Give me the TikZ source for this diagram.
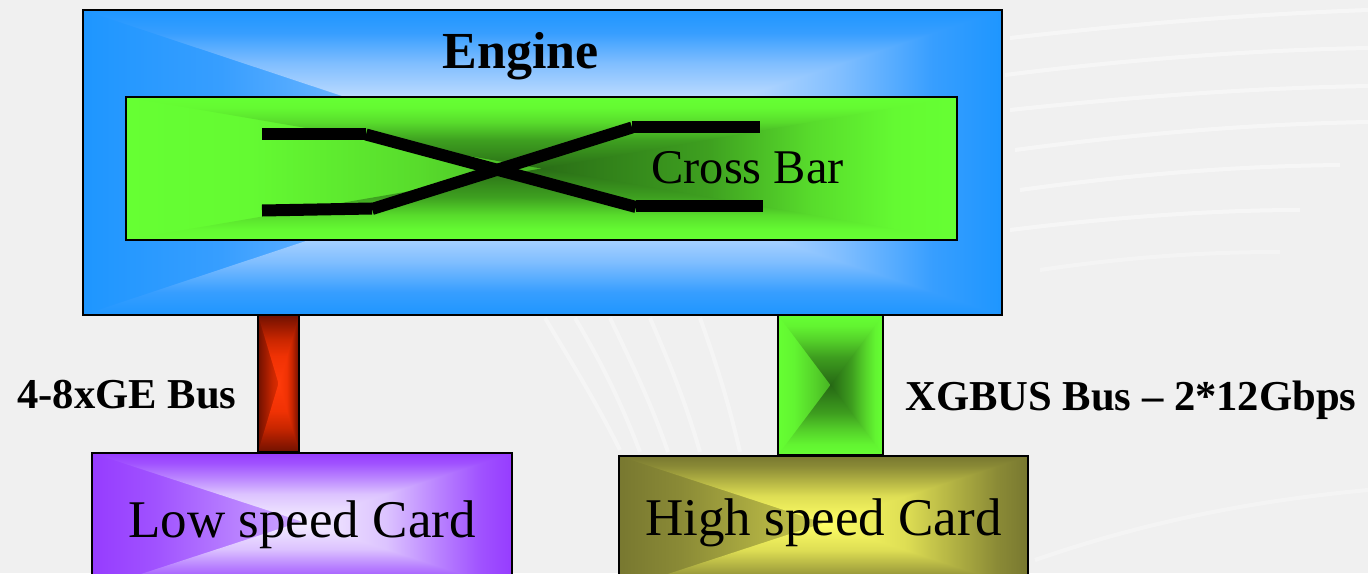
\documentclass[tikz,border=0pt]{standalone}
\usepackage{fontspec}
\setmainfont{Liberation Serif}

% ---------- colours ----------
\definecolor{bgc}{RGB}{240,240,240}
% engine (blue)
\definecolor{engE}{RGB}{30,150,255}
\definecolor{engA}{RGB}{55,158,255}
\definecolor{engB}{RGB}{128,190,255}
\definecolor{engM}{RGB}{195,222,255}
\definecolor{engC}{RGB}{225,238,255}
% cross bar (green)
\definecolor{cbE}{RGB}{102,255,51}
\definecolor{cbA}{RGB}{100,250,50}
\definecolor{cbB}{RGB}{88,220,44}
\definecolor{cbM}{RGB}{62,160,32}
\definecolor{cbC}{RGB}{42,110,22}
% red bus
\definecolor{rdE}{RGB}{112,18,0}
\definecolor{rdA}{RGB}{150,25,0}
\definecolor{rdB}{RGB}{200,38,0}
\definecolor{rdM}{RGB}{240,50,4}
\definecolor{rdC}{RGB}{255,58,10}
% green bus
\definecolor{gbE}{RGB}{102,255,51}
\definecolor{gbA}{RGB}{98,245,49}
\definecolor{gbB}{RGB}{85,210,42}
\definecolor{gbM}{RGB}{62,158,31}
\definecolor{gbC}{RGB}{38,104,20}
% low speed card (purple)
\definecolor{lsE}{RGB}{150,60,255}
\definecolor{lsA}{RGB}{160,82,255}
\definecolor{lsB}{RGB}{185,130,255}
\definecolor{lsM}{RGB}{220,195,255}
\definecolor{lsC}{RGB}{246,240,255}
% high speed card (olive/yellow)
\definecolor{hsE}{RGB}{120,120,48}
\definecolor{hsA}{RGB}{138,138,54}
\definecolor{hsB}{RGB}{175,175,66}
\definecolor{hsM}{RGB}{222,222,84}
\definecolor{hsC}{RGB}{255,255,102}

% four shadings per palette: T(op), B(ottom), L(eft), R(ight) pieces
% colours at s = 0 (edge), .15, .35, .6, 1 (centre)
\newcommand\mkgrads[6]{%
 \pgfdeclareverticalshading{#1T}{100bp}{color(0bp)=(#6); color(25bp)=(#6); color(45bp)=(#5); color(57.5bp)=(#4); color(67.5bp)=(#3); color(75bp)=(#2); color(100bp)=(#2)}%
 \pgfdeclareverticalshading{#1B}{100bp}{color(0bp)=(#2); color(25bp)=(#2); color(32.5bp)=(#3); color(42.5bp)=(#4); color(55bp)=(#5); color(75bp)=(#6); color(100bp)=(#6)}%
 \pgfdeclarehorizontalshading{#1R}{100bp}{color(0bp)=(#6); color(25bp)=(#6); color(45bp)=(#5); color(57.5bp)=(#4); color(67.5bp)=(#3); color(75bp)=(#2); color(100bp)=(#2)}%
 \pgfdeclarehorizontalshading{#1L}{100bp}{color(0bp)=(#2); color(25bp)=(#2); color(32.5bp)=(#3); color(42.5bp)=(#4); color(55bp)=(#5); color(75bp)=(#6); color(100bp)=(#6)}%
}
\mkgrads{eng}{engE}{engA}{engB}{engM}{engC}
\mkgrads{cb}{cbE}{cbA}{cbB}{cbM}{cbC}
\mkgrads{rd}{rdE}{rdA}{rdB}{rdM}{rdC}
\mkgrads{gb}{gbE}{gbA}{gbB}{gbM}{gbC}
\mkgrads{ls}{lsE}{lsA}{lsB}{lsM}{lsC}
\mkgrads{hs}{hsE}{hsA}{hsB}{hsM}{hsC}

\tikzset{
  rgrad/.style={path picture={
    \shade[shading=#1L]
      (path picture bounding box.north west) rectangle (path picture bounding box.south);
    \shade[shading=#1R]
      (path picture bounding box.north) rectangle (path picture bounding box.south east);
    \shade[shading=#1T]
      (path picture bounding box.north west) -- (path picture bounding box.north east)
      -- (path picture bounding box.center) -- cycle;
    \shade[shading=#1B]
      (path picture bounding box.south west) -- (path picture bounding box.south east)
      -- (path picture bounding box.center) -- cycle;
  }},
  gbox/.style={draw=black, line width=1pt, inner sep=0pt, outer sep=0pt, rectangle},
  busbox/.style={gbox, line width=1.4pt},
  xbar/.style={line width=6pt, black},
  bigtxt/.style={font=\fontsize{26.5pt}{30pt}\selectfont, inner sep=0pt},
  lbltxt/.style={font=\fontsize{21.3pt}{26pt}\selectfont\bfseries, inner sep=0pt},
  streak/.style={white, line width=2pt, opacity=0.45},
}

\begin{document}
\begin{tikzpicture}[x=0.5pt, y=-0.5pt]
\useasboundingbox (0,0) rectangle (1368,573);
\clip (0,0) rectangle (1368,573);
\fill[bgc] (0,0) rectangle (1368,573);

% background streaks
\begin{scope}
 \draw[streak] (1010,38) .. controls (1150,22) and (1260,14) .. (1368,10);
 \draw[streak] (1005,75) .. controls (1140,58) and (1260,50) .. (1368,48);
 \draw[streak] (1010,110) .. controls (1150,95) and (1260,88) .. (1368,86);
 \draw[streak] (1015,150) .. controls (1150,132) and (1260,124) .. (1368,122);
 \draw[streak] (1020,190) .. controls (1150,172) and (1250,166) .. (1340,165);
 \draw[streak] (1010,230) .. controls (1130,215) and (1230,210) .. (1300,210);
 \draw[streak, opacity=0.3] (1040,270) .. controls (1140,255) and (1220,252) .. (1280,252);
 \draw[streak, opacity=0.35] (545,318) .. controls (570,360) and (595,400) .. (620,450);
 \draw[streak, opacity=0.35] (575,318) .. controls (600,360) and (620,400) .. (640,452);
 \draw[streak, opacity=0.35] (610,318) .. controls (630,360) and (650,400) .. (668,452);
 \draw[streak, opacity=0.35] (650,318) .. controls (668,360) and (685,400) .. (700,452);
 \draw[streak, opacity=0.35] (700,318) .. controls (715,360) and (728,400) .. (740,452);
 \draw[streak, opacity=0.3] (1035,560) .. controls (1150,520) and (1260,500) .. (1368,490);
\end{scope}

% buses
\node[busbox, fill=rdE, rgrad=rd, minimum width=20.5pt, minimum height=68.5pt] (redbus) at (278.5,383.5) {};
\node[busbox, fill=gbE, rgrad=gb, minimum width=52.5pt, minimum height=70pt] (greenbus) at (830.5,385) {};

% engine
\node[gbox, fill=engE, rgrad=eng, minimum width=459.5pt, minimum height=152.5pt] (engine) at (542.5,162.5) {};
\node[font=\fontsize{26pt}{30pt}\selectfont\bfseries, inner sep=0pt, anchor=base] (enginetxt) at (520.5,68) {Engine};

% cross bar
\node[gbox, fill=cbE, rgrad=cb, minimum width=415.5pt, minimum height=71.5pt] (crossbar) at (541.5,168.5) {};
\draw[xbar] (262,133.5) -- (366,133.5);
\draw[xbar] (366,134.5) -- (636,207);
\draw[xbar] (636,205.5) -- (763,205.5);
\draw[xbar] (262,210.5) -- (372,208.5);
\draw[xbar] (372,209) -- (632,127.5);
\draw[xbar] (632,126.5) -- (760,126.5);
\node[font=\fontsize{24.2pt}{28pt}\selectfont, inner sep=0pt, anchor=base west] (cbtxt) at (651,183) {Cross Bar};

% cards
\node[gbox, fill=lsE, rgrad=ls, minimum width=210pt, minimum height=68.5pt] (lowcard) at (302,521.5) {};
\node[bigtxt, anchor=base] (lowtxt) at (302,537) {Low speed Card};
\node[gbox, fill=hsE, rgrad=hs, minimum width=204.5pt, minimum height=67pt] (highcard) at (823.5,523) {};
\node[bigtxt, anchor=base] (hightxt) at (823.5,535) {High speed Card};

% labels
\node[lbltxt, anchor=base west] (lbl1) at (17,408) {4-8xGE Bus};
\node[lbltxt, anchor=base west] (lbl2) at (905,410) {XGBUS Bus -- 2*12Gbps};
\end{tikzpicture}
\end{document}
